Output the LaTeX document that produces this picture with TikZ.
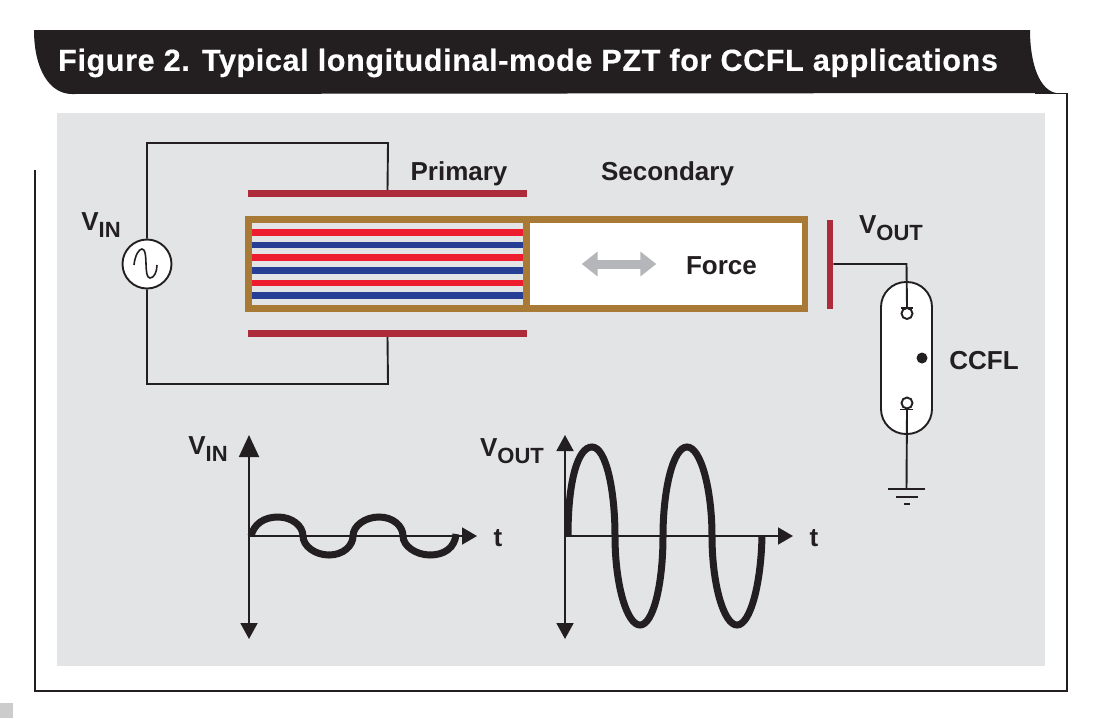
\documentclass[tikz,border=0pt]{standalone}
\usepackage{fontspec}
\setmainfont{Liberation Sans}
\newfontfamily\titlefont[LetterSpace=2.1,FakeBold=0.5]{Liberation Sans}
\usepackage{tikz}
\usetikzlibrary{arrows.meta}
\definecolor{panelgray}{HTML}{E3E4E6}
\definecolor{bandblack}{HTML}{231F20}
\definecolor{platered}{HTML}{AD2B3B}
\definecolor{stripered}{HTML}{ED1C2E}
\definecolor{stripeblue}{HTML}{263E94}
\definecolor{pztbrown}{HTML}{A97A35}
\definecolor{forcegray}{HTML}{B5B6B9}
\newcommand{\subV}[1]{V\raisebox{-0.28em}{\fontsize{22}{22}\selectfont #1}}
\tikzset{
  lbl/.style={font=\fontsize{26}{26}\selectfont\bfseries,text=bandblack,inner sep=0pt},
  wire/.style={draw=bandblack,line width=1.9pt},
  plate/.style={fill=platered,inner sep=0pt,minimum width=279pt,minimum height=7pt},
  axisone/.style={draw=bandblack,line width=1.9pt,{Triangle[length=16pt,width=17pt]}-{Triangle[length=16pt,width=17pt]}},
  haxis/.style={draw=bandblack,line width=1.9pt,-{Triangle[length=15pt,width=17pt]}},
  wave/.style={draw=bandblack,line width=7pt},
  elec/.style={draw=bandblack,fill=white,line width=1.9pt,circle,minimum size=11pt,inner sep=0pt}
}
\begin{document}
\begin{tikzpicture}[x=1pt,y=-1pt]
    \useasboundingbox (0,0) rectangle (1094,718);
    \fill[gray!40] (0,703) rectangle (13,718);
    % frame and title band
    \draw[bandblack,line width=1.7pt] (35,170) -- (35,691) -- (1067,691) -- (1067,93.5) -- (1035,93.5);
    \fill[bandblack] (34,30) -- (1030,30) .. controls (1030,65) and (1040,90) .. (1056,93) -- (72,94) .. controls (50,94) and (34,70) .. (34,30) -- cycle;
    \node[font=\titlefont\fontsize{30.5}{30.5}\selectfont\bfseries,text=white,anchor=west,inner sep=0pt] (title) at (58,63) {Figure 2. Typical longitudinal-mode PZT for CCFL applications};
    \fill[panelgray] (57,113) rectangle (1045,666);

    % input circuit
    \coordinate (wireA) at (388,143);
    \coordinate (wireB) at (388,384);
    \node[draw=bandblack,fill=white,line width=1.9pt,circle,minimum size=49pt,inner sep=0pt] (vin) at (147,264) {};
    \draw[bandblack,line width=1.6pt] (134,265) .. controls (135,255) and (139,249) .. (142,249) .. controls (149,249) and (143,278) .. (150,278) .. controls (154,278) and (157,272) .. (157,265);
    \node[plate] (platetop) at (387.5,193.5) {};
    \node[plate] (platebot) at (387.5,333.5) {};
    \draw[wire] (vin.north) |- (wireA) -- (platetop.north);
    \draw[wire] (vin.south) |- (wireB) -- (platebot.south);

    % PZT body
    \fill[white] (527,219) rectangle (805,308);
    \foreach \ypos/\col in {232.3/stripered,245/stripeblue,257.7/stripered,270.2/stripeblue,283/stripered,295.5/stripeblue}
        \fill[\col] (250,\ypos-3.3) rectangle (525,\ypos+3.3);
    \draw[pztbrown,line width=6.8pt] (248.5,219.3) rectangle (805,308.3);
    \draw[pztbrown,line width=6.8pt] (526.5,219.3) -- (526.5,308.3);
    \node[lbl] (primary) at (459,174) {Primary};
    \node[lbl] (secondary) at (667.5,174) {Secondary};
    \node[lbl] (force) at (721.5,266) {Force};
    \node[inner sep=0pt] (forcel) at (581,264) {};
    \node[inner sep=0pt] (forcer) at (657,264) {};
    \draw[forcegray,line width=9pt,{Triangle[length=16pt,width=24pt]}-{Triangle[length=16pt,width=24pt]}] (forcel) -- (forcer);
    \node[lbl] (vinlbl) at (101,225) {\subV{IN}};

    % output and lamp
    \node[fill=platered,inner sep=0pt,minimum width=6.5pt,minimum height=89pt] (plateout) at (830,264) {};
    \node[lbl] (voutlbl) at (891,228) {\subV{OUT}};
    \node[draw=bandblack,fill=white,line width=1.9pt,rounded corners=25pt,minimum width=51pt,minimum height=152pt,inner sep=0pt] (lamp) at (906.5,358) {};
    \node[elec] (elecA) at (907,313.5) {};
    \node[elec] (elecB) at (907,403) {};
    \coordinate (elbow) at (906.5,264);
    \coordinate (gnd) at (906.5,489);
    \draw[wire] (plateout.east |- elbow) -- (elbow) -- (elecA.north);
    \draw[wire] (elecB.south) -- (gnd);
    \draw[wire] (901,308) -- (913,308);
    \draw[wire] (900,409.5) -- (913,409.5);
    \draw[wire] (888,489) -- (925,489);
    \draw[wire] (896,497) -- (918,497);
    \draw[wire] (904,504) -- (910,504);
    \node[fill=bandblack,circle,minimum size=11pt,inner sep=0pt] (lampdot) at (922,358) {};
    \node[lbl] (ccfl) at (984,361) {CCFL};

    % input waveform
    \node[lbl] (vinplot) at (208,449) {\subV{IN}};
    \node[lbl] (tone) at (498,538) {t};
    \coordinate (aTop) at (249,435);
    \coordinate (aBot) at (249,639);
    \coordinate (aO) at (249,536);
    \coordinate (aEnd) at (477,536);
    \draw[draw=bandblack,line width=1.9pt,{Triangle[length=22pt,width=20pt]}-{Triangle[length=16pt,width=17pt]}] (aTop) -- (aBot);
    \draw[haxis] (aO) -- (aEnd);
    \draw[wave] (251,536) .. controls (254,524) and (264,517) .. (278,517) .. controls (292,517) and (303,526) .. (303,536)
        .. controls (303,546) and (315,555) .. (329,555) .. controls (343,555) and (353,546) .. (353,536)
        .. controls (353,526) and (365,517) .. (379,517) .. controls (393,517) and (403,526) .. (403,536)
        .. controls (403,546) and (416,555) .. (430,555) .. controls (444,555) and (455,548) .. (456,534);

    % output waveform
    \node[lbl] (voutplot) at (512,451) {\subV{OUT}};
    \node[lbl] (ttwo) at (814,538) {t};
    \coordinate (bTop) at (565,435);
    \coordinate (bBot) at (565,639);
    \coordinate (bO) at (565,536);
    \coordinate (bEnd) at (793,536);
    \draw[axisone] (bTop) -- (bBot);
    \draw[haxis] (bO) -- (bEnd);
    \draw[wave] (568,536) .. controls (568,480) and (578,447) .. (592,447) .. controls (606,447) and (615,490) .. (615,536)
        .. controls (615,585) and (627,625) .. (640,625) .. controls (653,625) and (663,585) .. (663,536)
        .. controls (663,490) and (673,447) .. (687,447) .. controls (701,447) and (712,490) .. (712,536)
        .. controls (712,585) and (724,625) .. (737,625) .. controls (750,625) and (761,585) .. (762,536);
\end{tikzpicture}
\end{document}
